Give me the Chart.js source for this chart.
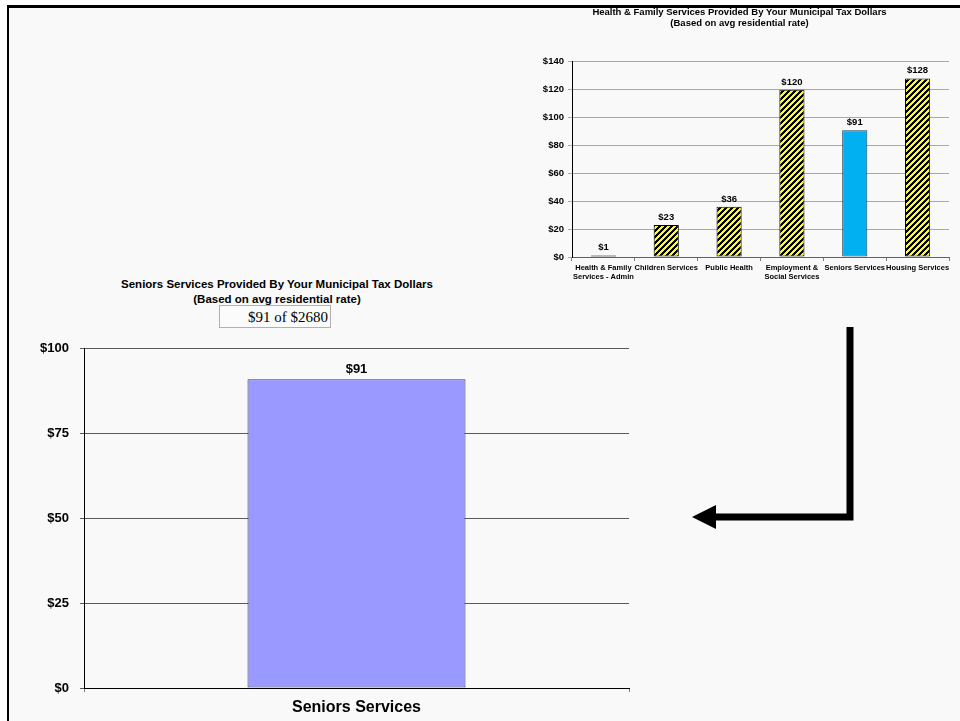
<!DOCTYPE html>
<html lang="en">
<head>
  <meta charset="UTF-8" />
  <script src="https://cdn.jsdelivr.net/npm/chart.js"></script>
  <style>
    html, body { margin: 0; padding: 0; background: #fff; }
    #page { position: relative; width: 960px; height: 721px; overflow: hidden; background: #fff; }
    #slide { position: absolute; left: 7px; top: 5px; right: -10px; bottom: -10px;
             border-left: 2px solid #000; border-top: 3px solid #000; background: #f9f9f9; }
    canvas { position: absolute; }
    #smallChart { left: 530px; top: 0; }
    #bigChart { left: 0; top: 330px; }
    #bigTitle { position: absolute; left: 27px; width: 500px; top: 277px; text-align: center;
                font: bold 11.5px 'Liberation Sans', Arial, sans-serif; line-height: 15px; color: #000; }
    #share { position: absolute; left: 219px; top: 305px; width: 108px; height: 21px; padding-right: 2px;
             border: 1px solid #b0b0b0; background: #fbfbfb; text-align: right;
             font: 15px 'Liberation Serif', 'Times New Roman', serif; line-height: 22px; color: #000; }
    #arrow { position: absolute; left: 680px; top: 320px; }
  </style>
</head>
<body>
  <div id="page">
    <div id="slide"></div>
    <canvas id="smallChart" width="430" height="290"></canvas>
    <div id="bigTitle">Seniors Services Provided By Your Municipal Tax Dollars<br>(Based on avg residential rate)</div>
    <div id="share">$91 of $2680</div>
    <canvas id="bigChart" width="640" height="391"></canvas>
    <svg id="arrow" width="190" height="220" viewBox="0 0 190 220">
      <polyline points="170,7 170,197 34,197" fill="none" stroke="#000" stroke-width="7" />
      <polygon points="12,197 36,185 36,209" fill="#000" />
    </svg>
  </div>

  <script>
    // Health & Family department breakdown
    const deptLabels = [
      ['Health & Family', 'Services - Admin'],
      'Children Services',
      'Public Health',
      ['Employment &', 'Social Services'],
      'Seniors Services',
      'Housing Services',
    ];
    const deptValues = [1, 23, 36, 120, 91, 128];
    const deptTicks = [0, 20, 40, 60, 80, 100, 120, 140];

    // Seniors detail
    const seniorLabels = ['Seniors Services'];
    const seniorValues = [91];
    const seniorTicks = [0, 25, 50, 75, 100];

    const FONT = "'Liberation Sans', Arial, sans-serif";
    Chart.defaults.font.family = FONT;
    Chart.defaults.color = '#000';

    // yellow / black diagonal stripes, built pixel by pixel so they stay crisp
    function stripes(ctx) {
      const size = 6;
      const c = document.createElement('canvas');
      c.width = c.height = size;
      const g = c.getContext('2d');
      for (let y = 0; y < size; y++) {
        for (let x = 0; x < size; x++) {
          g.fillStyle = (x + y) % size < 3 ? '#000' : '#ffff00';
          g.fillRect(x, y, 1, 1);
        }
      }
      return ctx.createPattern(c, 'repeat');
    }

    // writes each bar's value above it
    const valueLabels = {
      id: 'valueLabels',
      afterDatasetsDraw(chart, args, opts) {
        const ctx = chart.ctx;
        const meta = chart.getDatasetMeta(0);
        const data = chart.data.datasets[0].data;
        ctx.save();
        ctx.font = `bold ${opts.size}px ${FONT}`;
        ctx.fillStyle = '#000';
        ctx.textAlign = 'center';
        ctx.textBaseline = 'bottom';
        meta.data.forEach((bar, i) => {
          ctx.fillText('$' + data[i], bar.x, bar.y - opts.gap);
        });
        ctx.restore();
      },
    };

    function fixedAxis(size, horizontal) {
      return scale => { if (horizontal) scale.height = size; else scale.width = size; };
    }

    const smallCtx = document.getElementById('smallChart').getContext('2d');
    const hatch = stripes(smallCtx);
    new Chart(smallCtx, {
      type: 'bar',
      data: {
        labels: deptLabels,
        datasets: [{
          data: deptValues,
          backgroundColor: deptValues.map((v, i) => i === 4 ? '#00b0f0' : hatch),
          borderColor: deptValues.map((v, i) => i === 4 ? '#1d3f5e' : '#000'),
          borderWidth: 1,
          borderSkipped: false,
          barPercentage: 0.4,
          categoryPercentage: 1,
        }],
      },
      plugins: [valueLabels],
      options: {
        responsive: false,
        animation: false,
        layout: { padding: { left: 0, right: 11, top: 0, bottom: 0 } },
        plugins: {
          legend: { display: false },
          tooltip: { enabled: false },
          title: {
            display: true,
            text: ['Health & Family Services Provided By Your Municipal Tax Dollars', '(Based on avg residential rate)'],
            font: { size: 9.5, weight: 'bold', lineHeight: 1.15 },
            padding: { top: 7, bottom: 33 },
          },
          valueLabels: { size: 9.5, gap: 3 },
        },
        scales: {
          x: {
            afterFit: fixedAxis(33, true),
            grid: { drawOnChartArea: false, tickLength: 4, color: '#808080' },
            border: { color: '#606060' },
            ticks: { font: { size: 7.5, weight: 'bold' }, padding: 2, maxRotation: 0, autoSkip: false },
          },
          y: {
            min: 0, max: 140,
            afterFit: fixedAxis(42, false),
            afterBuildTicks: scale => { scale.ticks = deptTicks.map(v => ({ value: v })); },
            grid: { color: '#a8a8a8', tickLength: 4 },
            border: { color: '#000' },
            ticks: { font: { size: 9.5, weight: 'bold' }, padding: 4, callback: v => '$' + v },
          },
        },
      },
    });

    const bigCtx = document.getElementById('bigChart').getContext('2d');
    new Chart(bigCtx, {
      type: 'bar',
      data: {
        labels: seniorLabels,
        datasets: [{
          data: seniorValues,
          backgroundColor: '#9999ff',
          borderColor: '#3a3a55',
          borderWidth: 1,
          borderSkipped: false,
          barPercentage: 0.4,
          categoryPercentage: 1,
        }],
      },
      plugins: [valueLabels],
      options: {
        responsive: false,
        animation: false,
        layout: { padding: { left: 0, right: 11, top: 17, bottom: 0 } },
        plugins: {
          legend: { display: false },
          tooltip: { enabled: false },
          valueLabels: { size: 13, gap: 3 },
        },
        scales: {
          x: {
            afterFit: fixedAxis(33, true),
            grid: { drawOnChartArea: false, tickLength: 4, color: '#808080' },
            border: { color: '#000' },
            ticks: { font: { size: 16, weight: 'bold' }, padding: 6 },
          },
          y: {
            min: 0, max: 100,
            afterFit: fixedAxis(84, false),
            afterBuildTicks: scale => { scale.ticks = seniorTicks.map(v => ({ value: v })); },
            grid: { color: '#5a5a5a', tickLength: 4 },
            border: { color: '#000' },
            ticks: { font: { size: 13, weight: 'bold' }, padding: 11, callback: v => '$' + v },
          },
        },
      },
    });
  </script>
</body>
</html>
